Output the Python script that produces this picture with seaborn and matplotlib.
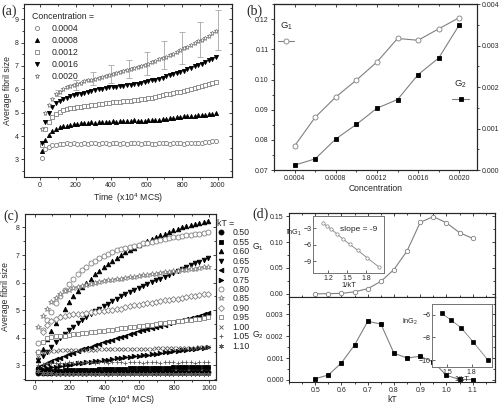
import numpy as np
import matplotlib
matplotlib.use('Agg')
import matplotlib.pyplot as plt
import seaborn as sns
from matplotlib.ticker import MultipleLocator, FixedLocator, FormatStrFormatter

# ---------------- data: panel (a) ----------------
time_a = np.arange(10, 1000, 20)
conc_labels = ['0.0004', '0.0008', '0.0012', '0.0016', '0.0020']
c04 = [3.05, 3.45, 3.55, 3.60, 3.62, 3.65, 3.68, 3.70, 3.68, 3.72,
       3.68, 3.66, 3.70, 3.68, 3.72, 3.70, 3.68, 3.72, 3.70, 3.68,
       3.70, 3.72, 3.68, 3.70, 3.66, 3.70, 3.72, 3.70, 3.68, 3.72,
       3.70, 3.66, 3.68, 3.70, 3.72, 3.70, 3.68, 3.70, 3.72, 3.70,
       3.68, 3.70, 3.72, 3.70, 3.70, 3.72, 3.74, 3.76, 3.80, 3.80]
c08 = [3.35, 3.85, 4.05, 4.20, 4.30, 4.38, 4.42, 4.45, 4.48, 4.50,
       4.52, 4.55, 4.57, 4.58, 4.60, 4.58, 4.60, 4.62, 4.60, 4.62,
       4.64, 4.62, 4.65, 4.66, 4.65, 4.66, 4.68, 4.66, 4.64, 4.66,
       4.68, 4.70, 4.68, 4.70, 4.72, 4.74, 4.76, 4.78, 4.80, 4.82,
       4.85, 4.86, 4.86, 4.88, 4.90, 4.90, 4.92, 4.94, 4.95, 4.97]
c12 = [3.60, 4.30, 4.60, 4.80, 4.95, 5.05, 5.12, 5.17, 5.20, 5.22,
       5.24, 5.26, 5.28, 5.30, 5.32, 5.34, 5.36, 5.38, 5.40, 5.42,
       5.44, 5.46, 5.48, 5.50, 5.50, 5.52, 5.54, 5.56, 5.58, 5.60,
       5.62, 5.65, 5.68, 5.72, 5.75, 5.78, 5.82, 5.85, 5.88, 5.90,
       5.95, 5.98, 6.00, 6.05, 6.10, 6.15, 6.18, 6.22, 6.26, 6.30]
c16 = [3.70, 4.60, 5.00, 5.25, 5.42, 5.52, 5.60, 5.65, 5.70, 5.74,
       5.78, 5.82, 5.86, 5.90, 5.94, 5.97, 6.00, 6.02, 6.05, 6.08,
       6.10, 6.12, 6.14, 6.16, 6.18, 6.20, 6.22, 6.25, 6.28, 6.32,
       6.35, 6.38, 6.42, 6.46, 6.50, 6.55, 6.60, 6.65, 6.70, 6.75,
       6.80, 6.86, 6.92, 6.98, 7.04, 7.10, 7.18, 7.25, 7.32, 7.40]
c20 = [4.30, 5.00, 5.35, 5.60, 5.80, 5.90, 6.00, 6.08, 6.14, 6.20,
       6.24, 6.28, 6.34, 6.38, 6.42, 6.46, 6.50, 6.54, 6.58, 6.62,
       6.66, 6.70, 6.74, 6.78, 6.82, 6.86, 6.90, 6.95, 7.00, 7.05,
       7.10, 7.16, 7.22, 7.28, 7.34, 7.40, 7.46, 7.52, 7.60, 7.68,
       7.75, 7.82, 7.90, 7.98, 8.05, 8.12, 8.20, 8.30, 8.40, 8.50]
err_time = [100, 200, 300, 400, 500, 600, 700, 800, 900, 1000]
err_mean = [5.85, 6.20, 6.45, 6.65, 6.88, 7.10, 7.45, 7.78, 8.15, 8.55]
err_size = [0.12, 0.22, 0.28, 0.38, 0.38, 0.48, 0.60, 0.68, 0.75, 0.85]

# ---------------- data: panel (b) ----------------
conc_b = [0.0004, 0.0006, 0.0008, 0.0010, 0.0012, 0.0014, 0.0016, 0.0018, 0.0020]
g1_b = [0.0780, 0.0875, 0.0942, 0.0998, 0.1058, 0.1136, 0.1130, 0.1168, 0.1205]
g2_b = [0.00012, 0.00027, 0.00075, 0.00110, 0.00149, 0.00170, 0.00230, 0.00270, 0.00350]

# ---------------- data: panel (c) ----------------
time_c = np.arange(20, 1000, 25)
kt_labels = ['0.50', '0.55', '0.60', '0.65', '0.70', '0.75', '0.80',
             '0.85', '0.90', '0.95', '1.00', '1.05', '1.10']
kt050 = [2.72, 2.73, 2.73, 2.74, 2.73, 2.74, 2.74, 2.73, 2.74, 2.75,
         2.74, 2.74, 2.75, 2.74, 2.75, 2.75, 2.74, 2.75, 2.75, 2.76,
         2.75, 2.75, 2.76, 2.75, 2.76, 2.76, 2.75, 2.76, 2.76, 2.77,
         2.76, 2.76, 2.77, 2.76, 2.77, 2.77, 2.76, 2.77, 2.77, 2.77]
kt055 = [2.78, 2.79, 2.80, 2.80, 2.81, 2.81, 2.82, 2.82, 2.83, 2.83,
         2.84, 2.84, 2.85, 2.85, 2.86, 2.86, 2.87, 2.87, 2.88, 2.88,
         2.88, 2.89, 2.89, 2.90, 2.90, 2.90, 2.91, 2.91, 2.92, 2.92,
         2.92, 2.93, 2.93, 2.93, 2.94, 2.94, 2.94, 2.95, 2.95, 2.95]
kt060 = [3.20, 3.60, 3.95, 4.25, 4.55, 4.80, 5.05, 5.30, 5.50, 5.70,
         5.85, 6.00, 6.15, 6.30, 6.42, 6.55, 6.67, 6.78, 6.90, 7.00,
         7.10, 7.18, 7.27, 7.35, 7.43, 7.50, 7.58, 7.65, 7.72, 7.78,
         7.85, 7.90, 7.96, 8.00, 8.05, 8.10, 8.13, 8.17, 8.20, 8.22]
kt065 = [3.20, 3.35, 3.50, 3.68, 3.85, 4.00, 4.13, 4.27, 4.40, 4.52,
         4.64, 4.75, 4.86, 4.96, 5.06, 5.15, 5.24, 5.33, 5.42, 5.50,
         5.58, 5.66, 5.73, 5.80, 5.87, 5.94, 6.01, 6.08, 6.15, 6.22,
         6.29, 6.36, 6.43, 6.50, 6.57, 6.63, 6.70, 6.76, 6.82, 6.88]
kt070 = [2.95, 3.00, 3.08, 3.15, 3.22, 3.28, 3.34, 3.40, 3.46, 3.52,
         3.58, 3.63, 3.68, 3.73, 3.78, 3.83, 3.88, 3.93, 3.98, 4.03,
         4.08, 4.13, 4.18, 4.23, 4.28, 4.32, 4.36, 4.40, 4.44, 4.48,
         4.52, 4.56, 4.60, 4.64, 4.68, 4.72, 4.76, 4.80, 4.85, 4.90]
kt075 = [2.85, 2.88, 2.90, 2.93, 2.95, 2.98, 3.00, 3.02, 3.05, 3.07,
         3.09, 3.11, 3.13, 3.15, 3.17, 3.19, 3.21, 3.23, 3.25, 3.27,
         3.29, 3.31, 3.33, 3.35, 3.37, 3.39, 3.41, 3.43, 3.45, 3.47,
         3.49, 3.51, 3.53, 3.55, 3.57, 3.59, 3.60, 3.62, 3.63, 3.65]
kt080 = [3.80, 4.30, 4.65, 4.95, 5.25, 5.50, 5.75, 5.95, 6.15, 6.30,
         6.45, 6.58, 6.70, 6.80, 6.90, 6.98, 7.05, 7.12, 7.18, 7.22,
         7.26, 7.30, 7.34, 7.38, 7.42, 7.45, 7.48, 7.52, 7.55, 7.58,
         7.61, 7.64, 7.67, 7.70, 7.72, 7.74, 7.76, 7.78, 7.80, 7.82]
kt085 = [4.40, 4.80, 5.05, 5.30, 5.45, 5.58, 5.68, 5.75, 5.80, 5.84,
         5.88, 5.92, 5.95, 5.98, 6.02, 6.05, 6.08, 6.10, 6.13, 6.15,
         6.18, 6.20, 6.22, 6.25, 6.27, 6.29, 6.31, 6.33, 6.35, 6.37,
         6.39, 6.41, 6.43, 6.45, 6.47, 6.49, 6.51, 6.53, 6.55, 6.57]
kt090 = [3.50, 4.20, 4.45, 4.60, 4.70, 4.76, 4.80, 4.83, 4.85, 4.87,
         4.88, 4.90, 4.92, 4.94, 4.96, 4.98, 5.00, 5.02, 5.04, 5.06,
         5.10, 5.14, 5.18, 5.20, 5.22, 5.25, 5.28, 5.30, 5.33, 5.36,
         5.38, 5.40, 5.42, 5.45, 5.48, 5.50, 5.52, 5.55, 5.58, 5.60]
kt095 = [3.50, 3.85, 3.98, 4.03, 4.05, 4.07, 4.08, 4.10, 4.12, 4.14,
         4.16, 4.18, 4.20, 4.22, 4.24, 4.26, 4.28, 4.30, 4.32, 4.34,
         4.36, 4.38, 4.40, 4.42, 4.44, 4.46, 4.48, 4.50, 4.52, 4.54,
         4.56, 4.58, 4.60, 4.62, 4.64, 4.66, 4.68, 4.70, 4.72, 4.75]
kt100 = [3.30, 3.45, 3.50, 3.52, 3.53, 3.54, 3.54, 3.55, 3.55, 3.56,
         3.56, 3.57, 3.57, 3.57, 3.58, 3.58, 3.58, 3.59, 3.59, 3.59,
         3.60, 3.60, 3.60, 3.60, 3.61, 3.61, 3.61, 3.62, 3.62, 3.62,
         3.62, 3.63, 3.63, 3.63, 3.64, 3.64, 3.64, 3.65, 3.65, 3.66]
kt105 = [3.00, 3.06, 3.08, 3.09, 3.10, 3.10, 3.10, 3.11, 3.10, 3.11,
         3.10, 3.11, 3.11, 3.10, 3.11, 3.11, 3.10, 3.11, 3.11, 3.11,
         3.10, 3.11, 3.11, 3.11, 3.10, 3.11, 3.11, 3.11, 3.10, 3.11,
         3.11, 3.11, 3.10, 3.11, 3.11, 3.11, 3.10, 3.11, 3.11, 3.11]
kt110 = [2.80, 2.74, 2.72, 2.71, 2.70, 2.70, 2.70, 2.69, 2.70, 2.69,
         2.70, 2.69, 2.69, 2.70, 2.69, 2.69, 2.70, 2.69, 2.69, 2.69,
         2.70, 2.69, 2.69, 2.69, 2.70, 2.69, 2.69, 2.69, 2.70, 2.69,
         2.69, 2.69, 2.70, 2.69, 2.69, 2.69, 2.70, 2.69, 2.69, 2.69]

# ---------------- data: panel (d) ----------------
kt_d = [0.50, 0.55, 0.60, 0.65, 0.70, 0.75, 0.80, 0.85, 0.90, 0.95, 1.00, 1.05, 1.10]
g1_d = [0.000, 0.0005, 0.001, 0.004, 0.010, 0.024, 0.047, 0.083, 0.138, 0.149, 0.137, 0.118, 0.107]
g2_d = [0.00005, 0.00022, 0.00078, 0.00160, 0.00268, 0.00256, 0.00122, 0.00100,
        0.00108, 0.00082, 0.00020, 0.00002, 0.00001]
kt_ticks = [0.5, 0.6, 0.7, 0.8, 0.9, 1.0, 1.1]
inv_kt1 = [1.111, 1.176, 1.250, 1.333, 1.429, 1.538, 1.667, 1.818, 2.000]
ln_g1 = [-2.0, -2.6, -3.2, -4.0, -4.9, -5.9, -7.0, -8.4, -10.0]
inv_kt2 = [1.429, 1.538, 1.667, 1.818, 2.000]
ln_g2 = [-5.9, -6.45, -7.15, -8.4, -10.0]

# ---------------- style ----------------
sns.set_style('ticks')
plt.rcParams['font.family'] = ['Liberation Sans', 'DejaVu Sans']
plt.rcParams['mathtext.fontset'] = 'custom'
plt.rcParams['mathtext.rm'] = 'Liberation Sans'
plt.rcParams['axes.linewidth'] = 0.8
GRAY = '0.5'
TICK = 5.0
LAB = 6.2


def tick_look(ax, direction):
    ax.tick_params(which='both', direction=direction, width=0.6, labelsize=TICK, pad=1.3)
    ax.tick_params(which='major', length=2.4)
    ax.tick_params(which='minor', length=1.3)


def setup(ax, xmaj, xmin, ymaj, ymin, fmt_x=None, fmt_y=None, top=True, right=True):
    ax.xaxis.set_major_locator(MultipleLocator(xmaj))
    ax.xaxis.set_minor_locator(MultipleLocator(xmin))
    ax.yaxis.set_major_locator(MultipleLocator(ymaj))
    ax.yaxis.set_minor_locator(MultipleLocator(ymin))
    if fmt_x:
        ax.xaxis.set_major_formatter(FormatStrFormatter(fmt_x))
    if fmt_y:
        ax.yaxis.set_major_formatter(FormatStrFormatter(fmt_y))
    tick_look(ax, 'out')
    # mirrored inward ticks on top / right (Origin style)
    if top:
        sx = ax.secondary_xaxis('top')
        sx.xaxis.set_major_locator(MultipleLocator(xmaj))
        sx.xaxis.set_minor_locator(MultipleLocator(xmin))
        tick_look(sx, 'in')
        sx.tick_params(labeltop=False)
    if right:
        sy = ax.secondary_yaxis('right')
        sy.yaxis.set_major_locator(MultipleLocator(ymaj))
        sy.yaxis.set_minor_locator(MultipleLocator(ymin))
        tick_look(sy, 'in')
        sy.tick_params(labelright=False)


def markers(ax, x, y, m, filled, ms, label=None):
    if filled:
        kw = dict(mfc='black', mec='black')
    elif m in ('x', '+') or isinstance(m, tuple):
        kw = dict(mfc='none', mec='0.35')
    else:
        kw = dict(mfc='white', mec=GRAY)
    sns.lineplot(x=x, y=y, ax=ax, marker=m, linestyle='', ms=ms, mew=0.6,
                 errorbar=None, label=label, color='black', **kw)


fig = plt.figure(figsize=(5.02, 4.05), dpi=100)

# ---------------- (a) ----------------
ax_a = fig.add_axes([0.0478, 0.563, 0.414, 0.427])
conc_series = [c04, c08, c12, c16, c20]
conc_marks = [('o', False), ('^', True), ('s', False), ('v', True), ('*', False)]
for lab, vals, (m, f) in zip(conc_labels, conc_series, conc_marks):
    markers(ax_a, time_a, vals, m, f, 3.6 if m == '*' else 3.0, lab)
ax_a.errorbar(err_time, err_mean, yerr=err_size, fmt='none', ecolor='0.65',
              elinewidth=0.6, capsize=2, capthick=0.6, zorder=1)
ax_a.set_xlim(-90, 1080)
ax_a.set_ylim(2.25, 9.65)
setup(ax_a, 200, 100, 1, 0.5)
ax_a.set_xlabel(r'Time  (x10$^4$ MCS)', fontsize=LAB, labelpad=1.5)
ax_a.set_ylabel('Average fibril size', fontsize=LAB, labelpad=2)
ax_a.legend(title='Concentration =', loc='upper left', bbox_to_anchor=(0.04, 0.955),
            frameon=False, fontsize=6.3, title_fontsize=6.3, alignment='left',
            labelspacing=0.35, handletextpad=1.2, handlelength=1.0, borderaxespad=0,
            borderpad=0)

# ---------------- (b) ----------------
ax_b = fig.add_axes([0.5458, 0.580, 0.404, 0.410])
sns.lineplot(x=conc_b, y=g1_b, ax=ax_b, marker='o', color=GRAY, lw=0.8,
             mfc='white', mec=GRAY, ms=3.6, mew=0.6, errorbar=None)
ax_b2 = ax_b.twinx()
sns.lineplot(x=conc_b, y=g2_b, ax=ax_b2, marker='s', color=GRAY, lw=0.8,
             mfc='black', mec='black', ms=3.2, mew=0.6, errorbar=None)
ax_b.set_xlim(0.0002, 0.00217)
ax_b.set_ylim(0.07, 0.125)
ax_b2.set_ylim(0.0, 0.004)
setup(ax_b, 0.0004, 0.0002, 0.01, 0.005, '%.4f', '%.2f', top=True, right=False)
ax_b2.yaxis.set_major_locator(MultipleLocator(0.001))
ax_b2.yaxis.set_minor_locator(MultipleLocator(0.0005))
ax_b2.yaxis.set_major_formatter(FormatStrFormatter('%.3f'))
tick_look(ax_b2, 'out')
ax_b.set_xlabel('Concentration', fontsize=LAB, labelpad=1.5)
ax_b.set_ylabel('')
ax_b2.set_ylabel('')
h1 = ax_b.get_lines()[0]
h2 = ax_b2.get_lines()[0]
ax_b.legend([h1], [''], title='G$_1$', loc='upper left', bbox_to_anchor=(0.02, 0.9),
            frameon=False, fontsize=6.5, title_fontsize=6.8, handlelength=1.8,
            handletextpad=0, borderaxespad=0, borderpad=0)
ax_b2.legend([h2], [''], title='G$_2$', loc='upper left', bbox_to_anchor=(0.88, 0.55),
             frameon=False, fontsize=6.5, title_fontsize=6.8, handlelength=1.8,
             handletextpad=0, borderaxespad=0, borderpad=0)

# ---------------- (c) ----------------
ax_c = fig.add_axes([0.0498, 0.0617, 0.3805, 0.41])
kt_series = [kt050, kt055, kt060, kt065, kt070, kt075, kt080,
             kt085, kt090, kt095, kt100, kt105, kt110]
kt_marks = [('o', True), ('s', True), ('^', True), ('v', True), ('<', True), ('>', True),
            ('o', False), ('*', False), ('D', False), ('s', False), ('x', False),
            ('+', False), ((6, 2, 0), False)]
for lab, vals, (m, f) in zip(kt_labels, kt_series, kt_marks):
    size = {'*': 4.2, 'D': 3.0, 'o': 3.6}.get(m if isinstance(m, str) else '', 3.3)
    markers(ax_c, time_c, vals, m, f, size, lab)
ax_c.set_xlim(-57, 1040)
ax_c.set_ylim(2.47, 8.49)
setup(ax_c, 200, 100, 1, 0.5)
ax_c.set_xlabel(r'Time  (x10$^4$ MCS)', fontsize=LAB, labelpad=0.5)
ax_c.set_ylabel('Average fibril size', fontsize=LAB, labelpad=4)
ax_c.legend(title='kT =', loc='upper left', bbox_to_anchor=(1.005, 0.97),
            frameon=False, fontsize=6.3, title_fontsize=6.3, alignment='left',
            labelspacing=0.05, handletextpad=0.9, handlelength=0.9, borderaxespad=0,
            borderpad=0)

# ---------------- (d) ----------------
ax_d1 = fig.add_axes([0.5757, 0.2667, 0.4104, 0.2074])
ax_d2 = fig.add_axes([0.5757, 0.0568, 0.4104, 0.2099])
sns.lineplot(x=kt_d, y=g1_d, ax=ax_d1, marker='o', color=GRAY, lw=0.8,
             mfc='white', mec=GRAY, ms=3.2, mew=0.6, errorbar=None)
sns.lineplot(x=kt_d, y=g2_d, ax=ax_d2, marker='s', color=GRAY, lw=0.8,
             mfc='black', mec='black', ms=3.0, mew=0.6, errorbar=None)
setup(ax_d1, 0.1, 0.05, 0.05, 0.025, None, '%.2f', top=True, right=True)
setup(ax_d2, 0.1, 0.05, 0.001, 0.0005, '%.1f', '%.3f', top=False, right=True)
for ax in (ax_d1, ax_d2):
    ax.xaxis.set_major_locator(FixedLocator(kt_ticks))
    ax.set_xlim(0.40, 1.185)
ax_d1.set_ylim(-0.006, 0.156)
ax_d2.set_ylim(-0.0001, 0.0038)
ax_d1.tick_params(axis='x', which='both', direction='in', labelbottom=False)
ax_d1.set_ylabel('G$_1$', fontsize=LAB, rotation=0)
ax_d1.yaxis.set_label_coords(-0.15, 0.52)
ax_d2.set_ylabel('G$_2$', fontsize=LAB, rotation=0)
ax_d2.yaxis.set_label_coords(-0.15, 0.48)
ax_d2.set_xlabel('kT', fontsize=LAB, labelpad=0.3)

# insets
in1 = fig.add_axes([0.6235, 0.3259, 0.1414, 0.1407])
sns.lineplot(x=inv_kt1, y=ln_g1, ax=in1, marker='o', color=GRAY, lw=0.6,
             mfc='white', mec=GRAY, ms=2.4, mew=0.5, errorbar=None)
in1.set_xlim(0.96, 2.08)
in1.set_ylim(-11.1, -0.8)
in1.xaxis.set_major_locator(FixedLocator([1.2, 1.5, 1.8]))
in1.yaxis.set_major_locator(FixedLocator([-3, -6, -9]))
in1.xaxis.set_major_formatter(FormatStrFormatter('%.1f'))
in1.tick_params(direction='in', length=2, width=0.5, labelsize=TICK, pad=1.2)
in1.set_xlabel('1/kT', fontsize=5.5, labelpad=0)
in1.set_ylabel('lnG$_1$', fontsize=5.3, rotation=0)
in1.yaxis.set_label_coords(-0.27, 0.62)
in1.text(0.64, 0.77, 'slope = -9', transform=in1.transAxes, fontsize=6, ha='center', va='center')

in2 = fig.add_axes([0.8606, 0.0938, 0.1195, 0.155])
sns.lineplot(x=inv_kt2, y=ln_g2, ax=in2, marker='s', color=GRAY, lw=0.6,
             mfc='black', mec='black', ms=2.2, mew=0.5, errorbar=None)
in2.set_xlim(1.31, 2.05)
in2.set_ylim(-10.6, -5.1)
in2.xaxis.set_major_locator(FixedLocator([1.5, 1.8]))
in2.yaxis.set_major_locator(FixedLocator([-6, -8, -10]))
in2.xaxis.set_major_formatter(FormatStrFormatter('%.1f'))
in2.tick_params(direction='in', length=2, width=0.5, labelsize=TICK, pad=1.2)
in2.set_xlabel('1/kT', fontsize=5.5, labelpad=0)
in2.set_ylabel('lnG$_2$', fontsize=5.3, rotation=0)
in2.yaxis.set_label_coords(-0.36, 0.64)
for ax in (in1, in2):
    for s in ax.spines.values():
        s.set_color('0.45')
        s.set_linewidth(0.7)

# panel letters
for x, y, t in [(0.002, 0.972, '(a)'), (0.49, 0.972, '(b)'),
                (0.006, 0.467, '(c)'), (0.502, 0.472, '(d)')]:
    fig.text(x, y, t, fontsize=10, family='Liberation Serif', va='center')

fig.savefig('out.png', dpi=100)
